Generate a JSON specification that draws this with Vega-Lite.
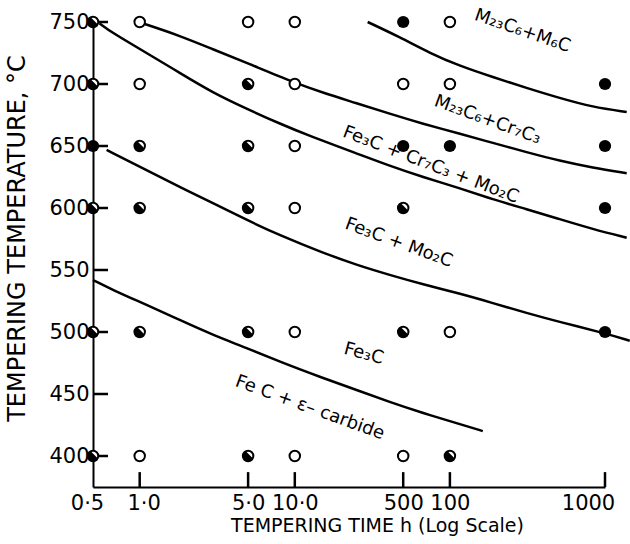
{
  "$schema": "https://vega.github.io/schema/vega-lite/v6.json",
  "width": 512,
  "height": 465,
  "autosize": {"type": "none"},
  "padding": {"left": 93, "top": 22, "right": 25, "bottom": 57},
  "background": "white",
  "config": {
    "view": {"stroke": null},
    "font": "DejaVu Sans",
    "axis": {
      "grid": false,
      "ticks": false,
      "domainColor": "black",
      "domainWidth": 2,
      "labelColor": "black",
      "labelFont": "DejaVu Sans",
      "labelFontSize": 21,
      "titleColor": "black",
      "titleFont": "DejaVu Sans",
      "titleFontWeight": "normal"
    }
  },
  "datasets": {
    "points": [
      {"t": 0.5, "T": 750, "k": "half"}, {"t": 1, "T": 750, "k": "open"}, {"t": 5, "T": 750, "k": "open"}, {"t": 10, "T": 750, "k": "open"}, {"t": 50, "T": 750, "k": "filled"}, {"t": 100, "T": 750, "k": "open"},
      {"t": 0.5, "T": 700, "k": "half"}, {"t": 1, "T": 700, "k": "open"}, {"t": 5, "T": 700, "k": "half"}, {"t": 10, "T": 700, "k": "open"}, {"t": 50, "T": 700, "k": "open"}, {"t": 100, "T": 700, "k": "open"}, {"t": 1000, "T": 700, "k": "filled"},
      {"t": 0.5, "T": 650, "k": "filled"}, {"t": 1, "T": 650, "k": "half"}, {"t": 5, "T": 650, "k": "half"}, {"t": 10, "T": 650, "k": "open"}, {"t": 50, "T": 650, "k": "filled"}, {"t": 100, "T": 650, "k": "filled"}, {"t": 1000, "T": 650, "k": "filled"},
      {"t": 0.5, "T": 600, "k": "half"}, {"t": 1, "T": 600, "k": "half"}, {"t": 5, "T": 600, "k": "half"}, {"t": 10, "T": 600, "k": "open"}, {"t": 50, "T": 600, "k": "half"}, {"t": 1000, "T": 600, "k": "filled"},
      {"t": 0.5, "T": 500, "k": "half"}, {"t": 1, "T": 500, "k": "half"}, {"t": 5, "T": 500, "k": "half"}, {"t": 10, "T": 500, "k": "open"}, {"t": 50, "T": 500, "k": "half"}, {"t": 100, "T": 500, "k": "open"}, {"t": 1000, "T": 500, "k": "filled"},
      {"t": 0.5, "T": 400, "k": "half"}, {"t": 1, "T": 400, "k": "open"}, {"t": 5, "T": 400, "k": "half"}, {"t": 10, "T": 400, "k": "open"}, {"t": 50, "T": 400, "k": "open"}, {"t": 100, "T": 400, "k": "half"}
    ],
    "curves": [
      {"c": "A", "t": 29.5, "T": 750}, {"c": "A", "t": 47.4, "T": 737.9}, {"c": "A", "t": 74.1, "T": 725}, {"c": "A", "t": 115.7, "T": 714.5}, {"c": "A", "t": 188.8, "T": 705.6}, {"c": "A", "t": 312.9, "T": 696.8}, {"c": "A", "t": 510, "T": 688.7}, {"c": "A", "t": 832, "T": 681.4}, {"c": "A", "t": 1380, "T": 677.4},
      {"c": "B", "t": 1.04, "T": 749}, {"c": "B", "t": 1.81, "T": 739}, {"c": "B", "t": 2.96, "T": 728}, {"c": "B", "t": 4.9, "T": 717}, {"c": "B", "t": 10, "T": 701}, {"c": "B", "t": 15.1, "T": 693}, {"c": "B", "t": 25.1, "T": 684.5}, {"c": "B", "t": 40.9, "T": 676}, {"c": "B", "t": 66.7, "T": 668}, {"c": "B", "t": 115.6, "T": 660}, {"c": "B", "t": 188.8, "T": 652.5}, {"c": "B", "t": 313, "T": 645}, {"c": "B", "t": 510, "T": 638}, {"c": "B", "t": 832, "T": 632.5}, {"c": "B", "t": 1380, "T": 628},
      {"c": "C", "t": 0.55, "T": 749}, {"c": "C", "t": 0.67, "T": 741}, {"c": "C", "t": 1.11, "T": 725}, {"c": "C", "t": 1.81, "T": 709}, {"c": "C", "t": 2.96, "T": 693}, {"c": "C", "t": 4.9, "T": 680}, {"c": "C", "t": 8.0, "T": 668}, {"c": "C", "t": 12.5, "T": 658}, {"c": "C", "t": 25.1, "T": 644}, {"c": "C", "t": 40.9, "T": 634}, {"c": "C", "t": 66.7, "T": 625}, {"c": "C", "t": 115.6, "T": 616}, {"c": "C", "t": 188.8, "T": 607}, {"c": "C", "t": 313, "T": 599}, {"c": "C", "t": 510, "T": 591}, {"c": "C", "t": 832, "T": 583}, {"c": "C", "t": 1380, "T": 576},
      {"c": "D", "t": 0.612, "T": 646.8}, {"c": "D", "t": 1.11, "T": 630.6}, {"c": "D", "t": 1.81, "T": 616.9}, {"c": "D", "t": 2.96, "T": 604}, {"c": "D", "t": 4.9, "T": 590.3}, {"c": "D", "t": 8.0, "T": 578}, {"c": "D", "t": 15.1, "T": 564}, {"c": "D", "t": 25.1, "T": 554}, {"c": "D", "t": 40.9, "T": 546}, {"c": "D", "t": 66.7, "T": 538.5}, {"c": "D", "t": 115.6, "T": 531}, {"c": "D", "t": 188.8, "T": 523.4}, {"c": "D", "t": 313, "T": 515.3}, {"c": "D", "t": 510, "T": 508.1}, {"c": "D", "t": 1000, "T": 499}, {"c": "D", "t": 1445, "T": 493},
      {"c": "E", "t": 0.5, "T": 541.9}, {"c": "E", "t": 0.67, "T": 533.9}, {"c": "E", "t": 1.11, "T": 521.8}, {"c": "E", "t": 1.81, "T": 509.7}, {"c": "E", "t": 2.96, "T": 497.6}, {"c": "E", "t": 4.9, "T": 487.1}, {"c": "E", "t": 8.0, "T": 476}, {"c": "E", "t": 15.1, "T": 463}, {"c": "E", "t": 25.1, "T": 453.2}, {"c": "E", "t": 40.9, "T": 443.5}, {"c": "E", "t": 66.7, "T": 434.7}, {"c": "E", "t": 115.6, "T": 425.8}, {"c": "E", "t": 163, "T": 420.1}
    ],
    "yticks": [{"t": 0.5, "t2": 0.625, "T": 400}, {"t": 0.5, "t2": 0.625, "T": 450}, {"t": 0.5, "t2": 0.625, "T": 500}, {"t": 0.5, "t2": 0.625, "T": 550}, {"t": 0.5, "t2": 0.625, "T": 600}, {"t": 0.5, "t2": 0.625, "T": 650}, {"t": 0.5, "t2": 0.625, "T": 700}, {"t": 0.5, "t2": 0.625, "T": 750}],
    "xticks": [{"t": 1, "T": 375, "T2": 387}, {"t": 5, "T": 375, "T2": 387}, {"t": 10, "T": 375, "T2": 387}, {"t": 50, "T": 375, "T2": 387}, {"t": 100, "T": 375, "T2": 387}, {"t": 1000, "T": 375, "T2": 387}]
  },
  "encoding": {
    "x": {
      "field": "t", "type": "quantitative",
      "scale": {"type": "log", "domain": [0.5, 1000], "nice": false},
      "axis": {
        "values": [0.5, 1, 5, 10, 50, 100, 1000],
        "labelExpr": "datum.value == 0.5 ? '0·5' : datum.value == 1 ? '1·0' : datum.value == 5 ? '5·0' : datum.value == 10 ? '10·0' : datum.value == 50 ? '500' : datum.value == 100 ? '100' : '1000'",
        "labelPadding": 5,
        "labelFlush": false,
        "labelOverlap": false,
        "labelOffset": {"condition": [{"test": "datum.value == 1000", "value": -17}, {"test": "datum.value == 0.5", "value": -6}, {"test": "datum.value == 1", "value": 4}], "value": 0},
        "title": "TEMPERING TIME h  (Log Scale)",
        "titleFontSize": 19,
        "titleX": 284,
        "titleY": 38,
        "titleBaseline": "middle"
      }
    },
    "y": {
      "field": "T", "type": "quantitative",
      "scale": {"domain": [375, 750], "nice": false, "zero": false},
      "axis": {
        "values": [400, 450, 500, 550, 600, 650, 700, 750],
        "labelPadding": 4,
        "labelFlush": false,
        "labelOverlap": false,
        "title": "TEMPERING TEMPERATURE, °C",
        "titleFontSize": 24,
        "titleX": -76,
        "titleY": 216,
        "titleBaseline": "middle"
      }
    }
  },
  "layer": [
    {
      "data": {"name": "curves"},
      "mark": {"type": "line", "color": "black", "strokeWidth": 2.5, "interpolate": "basis"},
      "encoding": {"detail": {"field": "c"}}
    },
    {
      "data": {"name": "yticks"},
      "mark": {"type": "rule", "color": "black", "strokeWidth": 2.5},
      "encoding": {"x2": {"field": "t2"}}
    },
    {
      "data": {"name": "xticks"},
      "mark": {"type": "rule", "color": "black", "strokeWidth": 2.5},
      "encoding": {"y2": {"field": "T2"}}
    },
    {
      "data": {"name": "points"},
      "transform": [{"filter": "datum.k != 'filled'"}],
      "mark": {"type": "point", "shape": "circle", "filled": true, "fill": "white", "stroke": "black", "strokeWidth": 2, "size": 110, "opacity": 1}
    },
    {
      "data": {"name": "points"},
      "transform": [{"filter": "datum.k == 'half'"}],
      "mark": {"type": "point", "shape": "M-0.463,-0.887 A1,1 0 1,0 0.887,0.463 Z", "filled": true, "fill": "black", "size": 121, "opacity": 1}
    },
    {
      "data": {"name": "points"},
      "transform": [{"filter": "datum.k == 'filled'"}],
      "mark": {"type": "point", "shape": "circle", "filled": true, "fill": "black", "size": 150, "opacity": 1}
    },
    {
      "data": {"values": [{"t": 294, "T": 742.7, "label": "M₂₃C₆+M₆C"}]},
      "mark": {"type": "text", "angle": 19, "fontSize": 18, "font": "DejaVu Sans", "color": "black"},
      "encoding": {"text": {"field": "label"}}
    },
    {
      "data": {"values": [{"t": 175, "T": 671, "label": "M₂₃C₆+Cr₇C₃"}]},
      "mark": {"type": "text", "angle": 20, "fontSize": 18, "font": "DejaVu Sans", "color": "black"},
      "encoding": {"text": {"field": "label"}}
    },
    {
      "data": {"values": [{"t": 75.2, "T": 634.7, "label": "Fe₃C + Cr₇C₃ + Mo₂C"}]},
      "mark": {"type": "text", "angle": 21, "fontSize": 18, "font": "DejaVu Sans", "color": "black"},
      "encoding": {"text": {"field": "label"}}
    },
    {
      "data": {"values": [{"t": 46.8, "T": 571.8, "label": "Fe₃C  + Mo₂C"}]},
      "mark": {"type": "text", "angle": 20, "fontSize": 18, "font": "DejaVu Sans", "color": "black"},
      "encoding": {"text": {"field": "label"}}
    },
    {
      "data": {"values": [{"t": 27.8, "T": 482.3, "label": "Fe₃C"}]},
      "mark": {"type": "text", "angle": 15, "fontSize": 18, "font": "DejaVu Sans", "color": "black"},
      "encoding": {"text": {"field": "label"}}
    },
    {
      "data": {"values": [{"t": 12.5, "T": 438.7, "label": "Fe C + ε– carbide"}]},
      "mark": {"type": "text", "angle": 20, "fontSize": 18, "font": "DejaVu Sans", "color": "black"},
      "encoding": {"text": {"field": "label"}}
    }
  ]
}
